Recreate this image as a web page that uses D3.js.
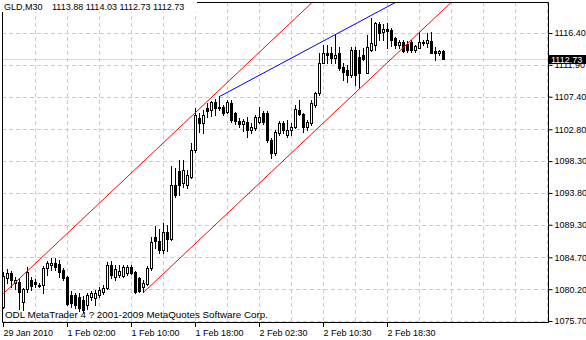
<!DOCTYPE html>
<html>
<head>
<meta charset="utf-8">
<script src="https://cdn.jsdelivr.net/npm/d3@7"></script>
<style>
  body { margin: 0; background: #fff; }
  svg { display: block; font-family: "Liberation Sans", Arial, sans-serif; }
</style>
</head>
<body>
<div id="chart"></div>
<script>
// GLD, 30 minute bars, 29 Jan 2010 .. 2 Feb 2010
const symbol = 'GLD,M30';
const lastOHLC = [1113.88, 1114.03, 1112.73, 1112.73];
const bidPrice = 1112.73;
const copyright = 'ODL MetaTrader 4 ? 2001-2009 MetaQuotes Software Corp.';

const opens = [
  1077.67, 1081.77, 1082.48, 1081.07, 1081.21, 1078.38, 1080.22, 1081.49, 1081.21, 1080.64,
  1080.78, 1083.19, 1083.61, 1083.89, 1083.75, 1082.90, 1081.91, 1079.37, 1079.37, 1079.09,
  1078.66, 1077.96, 1079.09, 1078.95, 1079.37, 1079.80, 1080.36, 1083.61, 1081.91, 1082.20,
  1082.06, 1082.48, 1083.33, 1082.62, 1081.77, 1080.50, 1080.93, 1083.19, 1087.57, 1087.00,
  1085.73, 1088.27, 1087.29, 1094.92, 1096.89, 1095.20, 1094.92, 1096.05, 1099.86, 1104.38,
  1103.68, 1105.80, 1105.52, 1106.65, 1105.94, 1105.94, 1105.23, 1106.50, 1105.09, 1103.96,
  1103.54, 1103.82, 1102.69, 1102.97, 1103.82, 1105.09, 1105.09, 1101.28, 1099.44, 1102.26,
  1103.68, 1101.98, 1102.69, 1103.11, 1105.52, 1104.95, 1103.11, 1103.68, 1106.22, 1107.92,
  1112.16, 1113.57, 1113.57, 1112.86, 1113.57, 1111.59, 1111.17, 1110.46, 1114.00, 1113.01,
  1113.29, 1110.74, 1114.00, 1114.70, 1117.67, 1116.54, 1116.96, 1116.82, 1115.69, 1114.70,
  1115.12, 1114.84, 1115.12, 1114.00, 1114.28, 1115.12, 1114.98, 1115.27, 1113.85, 1113.57, 1113.88
];
const highs = [
  1082.62, 1083.05, 1082.76, 1081.91, 1081.77, 1080.36, 1083.33, 1081.91, 1081.63, 1081.07,
  1083.47, 1084.18, 1084.60, 1084.60, 1084.32, 1083.19, 1082.06, 1079.94, 1079.65, 1079.65,
  1079.23, 1079.65, 1079.94, 1080.08, 1080.50, 1080.78, 1084.03, 1084.18, 1083.61, 1083.61,
  1083.61, 1083.61, 1083.61, 1082.76, 1081.91, 1081.49, 1083.47, 1087.57, 1089.12, 1088.70,
  1089.55, 1089.26, 1097.60, 1097.32, 1098.45, 1098.45, 1097.04, 1100.85, 1105.80, 1105.09,
  1105.52, 1106.50, 1106.79, 1107.07, 1107.49, 1106.22, 1106.93, 1106.93, 1105.23, 1104.38,
  1104.24, 1104.53, 1103.68, 1104.81, 1105.94, 1105.37, 1105.37, 1101.56, 1102.69, 1103.96,
  1103.96, 1104.10, 1103.68, 1106.22, 1106.93, 1105.09, 1104.10, 1106.93, 1108.06, 1113.57,
  1114.70, 1114.70, 1114.42, 1116.26, 1114.42, 1112.16, 1111.87, 1114.42, 1114.42, 1114.00,
  1114.28, 1116.11, 1118.52, 1117.95, 1117.95, 1117.67, 1117.81, 1117.10, 1115.83, 1115.41,
  1115.41, 1115.27, 1115.41, 1114.70, 1116.54, 1115.41, 1116.40, 1116.54, 1114.42, 1114.00, 1114.03
];
const lows = [
  1077.53, 1081.07, 1080.50, 1080.22, 1077.39, 1077.25, 1079.80, 1080.08, 1080.50, 1080.50,
  1079.65, 1082.20, 1082.90, 1082.90, 1081.91, 1081.49, 1077.96, 1077.67, 1077.53, 1077.11,
  1076.97, 1077.39, 1078.66, 1077.96, 1079.09, 1079.51, 1080.22, 1081.77, 1081.49, 1081.91,
  1081.91, 1082.20, 1082.34, 1079.65, 1079.80, 1079.80, 1080.78, 1082.90, 1086.01, 1085.31,
  1085.31, 1085.59, 1087.14, 1093.22, 1093.50, 1094.63, 1094.49, 1095.91, 1099.58, 1102.41,
  1102.26, 1104.53, 1104.67, 1104.81, 1105.52, 1104.81, 1105.09, 1103.82, 1103.54, 1103.11,
  1102.55, 1101.70, 1102.26, 1102.69, 1103.68, 1103.54, 1100.99, 1098.73, 1099.16, 1101.98,
  1102.26, 1101.70, 1101.98, 1102.97, 1104.81, 1102.41, 1102.69, 1103.40, 1105.94, 1107.64,
  1112.16, 1112.16, 1112.16, 1112.16, 1111.17, 1109.75, 1109.47, 1110.18, 1109.05, 1108.62,
  1112.58, 1110.74, 1113.85, 1114.00, 1115.41, 1115.41, 1114.28, 1114.56, 1114.28, 1114.28,
  1113.71, 1113.71, 1113.71, 1113.71, 1114.28, 1114.70, 1114.42, 1113.57, 1112.58, 1113.29, 1112.73
];
const closes = [
  1082.06, 1082.48, 1081.49, 1081.49, 1079.80, 1080.22, 1082.62, 1080.64, 1080.93, 1080.78,
  1083.19, 1083.89, 1083.89, 1083.33, 1082.62, 1081.77, 1078.10, 1078.24, 1077.96, 1077.53,
  1077.25, 1079.37, 1079.65, 1079.65, 1080.08, 1080.36, 1083.61, 1082.20, 1083.05, 1082.76,
  1083.33, 1083.33, 1082.48, 1079.80, 1079.94, 1081.07, 1083.19, 1086.86, 1087.00, 1085.73,
  1088.27, 1087.29, 1094.92, 1093.50, 1094.92, 1097.04, 1096.33, 1099.86, 1104.81, 1103.68,
  1104.81, 1105.37, 1106.65, 1105.80, 1105.80, 1105.09, 1106.65, 1104.10, 1103.96, 1103.54,
  1103.96, 1102.69, 1103.11, 1104.53, 1104.53, 1103.82, 1101.28, 1099.44, 1102.41, 1103.68,
  1102.69, 1102.69, 1103.11, 1105.66, 1104.95, 1103.11, 1103.82, 1106.50, 1107.92, 1112.16,
  1113.57, 1113.29, 1112.86, 1113.29, 1111.45, 1110.89, 1110.46, 1114.00, 1110.46, 1110.74,
  1112.72, 1114.42, 1114.98, 1117.81, 1116.40, 1116.96, 1116.68, 1115.41, 1114.70, 1115.12,
  1113.85, 1114.00, 1114.00, 1114.56, 1115.12, 1114.98, 1115.41, 1113.57, 1113.57, 1113.85, 1112.73
];

const timeLabels = ['29 Jan 2010', '1 Feb 02:00', '1 Feb 10:00', '1 Feb 18:00', '2 Feb 02:30', '2 Feb 10:30', '2 Feb 18:30'];
const timeLabelBars = [0, 16, 32, 48, 64, 80, 96];
const priceTicks = [1116.40, 1111.90, 1107.40, 1102.80, 1098.30, 1093.80, 1089.30, 1084.70, 1080.20, 1075.70];

// trend objects: [bar index, price] anchor pairs
const channelUpper = [[0, 1079.65], [60, 1111.64]];
const channelLower = [[35, 1079.80], [95, 1111.78]];
const blueTrend = [[54, 1107.49], [83, 1116.26]];

const W = 586, H = 340;
const plot = { left: 2, top: 2, right: 548, bottom: 322 };
const gridColor = '#a8dcdc';

const svg = d3.select('#chart').append('svg')
  .attr('width', W)
  .attr('height', H);

svg.append('rect').attr('width', W).attr('height', H).attr('fill', '#fff');

// bar i -> left edge of its pixel column, price -> pixel row
const x = d3.scaleLinear().domain([0, 1]).range([3, 7]);
const y = d3.scaleLinear().domain([1075.70, 1116.40]).range([321, 33]);
const row = v => Math.round(y(v));

//grid
const grid = svg.append('g')
  .attr('stroke', gridColor)
  .attr('stroke-dasharray', '4,3');
grid.selectAll('line.h').data(priceTicks).join('line')
  .attr('x1', plot.left).attr('x2', plot.right)
  .attr('y1', d => row(d) + 0.5).attr('y2', d => row(d) + 0.5);
grid.selectAll('line.v').data(d3.range(8, 137, 8)).join('line')
  .attr('x1', d => x(d) + 0.5).attr('x2', d => x(d) + 0.5)
  .attr('y1', plot.top).attr('y2', plot.bottom);

// bid line
svg.append('line')
  .attr('x1', plot.left).attr('x2', plot.right)
  .attr('y1', row(bidPrice) + 0.5).attr('y2', row(bidPrice) + 0.5)
  .attr('stroke', '#b8e6e6');

svg.append('text')
  .attr('x', 5).attr('y', 318)
  .attr('font-size', '9.8px')
  .attr('fill', '#000')
  .text(copyright);

//candles
const bars = d3.range(closes.length).map(i => ({ i, o: opens[i], h: highs[i], l: lows[i], c: closes[i] }));

svg.append('g').selectAll('line').data(bars).join('line')
  .attr('x1', d => x(d.i) + 0.5).attr('x2', d => x(d.i) + 0.5)
  .attr('y1', d => row(d.h)).attr('y2', d => row(d.l) + 1)
  .attr('stroke', '#000');

svg.append('g').selectAll('rect').data(bars).join('rect')
  .attr('x', d => d.c >= d.o ? x(d.i) - 0.5 : x(d.i) - 1)
  .attr('y', d => d.c >= d.o ? row(d.c) + 0.5 : row(d.o))
  .attr('width', d => d.c >= d.o ? 2 : 3)
  .attr('height', d => d.c >= d.o ? Math.max(row(d.o) - row(d.c), 0.01) : row(d.c) - row(d.o) + 1)
  .attr('fill', d => d.c >= d.o ? '#fff' : '#000')
  .attr('stroke', d => d.c >= d.o ? '#000' : 'none');

// trend lines, extended to the right and clipped to the plot
svg.append('clipPath').attr('id', 'plotClip')
  .append('rect')
  .attr('x', plot.left).attr('y', plot.top + 1)
  .attr('width', plot.right - plot.left).attr('height', plot.bottom - plot.top);

function ray(pts, toBar) {
  const [[i1, p1], [i2, p2]] = pts;
  const k = (p2 - p1) / (i2 - i1);
  return [[i1, p1], [toBar, p1 + k * (toBar - i1)]];
}
const trendLine = d3.line().x(d => x(d[0]) + 0.5).y(d => y(d[1]) + 0.5);

const trends = svg.append('g').attr('clip-path', 'url(#plotClip)').attr('fill', 'none');
trends.append('path').attr('d', trendLine(ray(channelUpper, 140))).attr('stroke', '#ff0000');
trends.append('path').attr('d', trendLine(ray(channelLower, 140))).attr('stroke', '#ff0000');
trends.append('path').attr('d', trendLine(ray(blueTrend, 140))).attr('stroke', '#0000ff');

// frame
svg.append('path')
  .attr('d', `M${plot.left + 0.5},${plot.top + 0.5}H${plot.right + 0.5}V${plot.bottom + 0.5}H${plot.left + 0.5}Z`)
  .attr('fill', 'none')
  .attr('stroke', '#000');

// price axis
svg.append('g')
  .attr('transform', `translate(${plot.right + 0.5},0)`)
  .call(d3.axisRight(y).tickValues(priceTicks).tickFormat(d3.format('.2f')).tickSize(4).tickSizeOuter(0).tickPadding(2))
  .call(g => g.select('.domain').remove())
  .attr('font-family', null)
  .attr('font-size', '9px');

// current price box
svg.append('rect')
  .attr('x', plot.right + 1).attr('y', row(bidPrice) - 4)
  .attr('width', W - plot.right - 1).attr('height', 9)
  .attr('fill', '#000');
svg.append('text')
  .attr('x', plot.right + 3).attr('y', row(bidPrice) + 0.5)
  .attr('dy', '0.35em')
  .attr('font-size', '9px')
  .attr('fill', '#fff')
  .text(d3.format('.2f')(bidPrice));

// time axis
svg.append('g')
  .attr('transform', `translate(0,${plot.bottom})`)
  .call(d3.axisBottom(x).tickValues(timeLabelBars).tickFormat((d, i) => timeLabels[i]).tickSize(5).tickSizeOuter(0))
  .call(g => g.select('.domain').remove())
  .attr('font-family', null)
  .attr('font-size', '9px')
  .selectAll('text')
  .attr('text-anchor', 'start')
  .attr('x', 0)
  .attr('y', 14)
  .attr('dy', 0);

// title
svg.append('rect').attr('x', 0).attr('y', 0).attr('width', 197).attr('height', 12).attr('fill', '#fff');
svg.append('text')
  .attr('x', 4).attr('y', 10)
  .attr('font-size', '9px')
  .text(symbol);
svg.append('text')
  .attr('x', 52).attr('y', 10)
  .attr('font-size', '9px')
  .text(lastOHLC.map(d3.format('.2f')).join(' '));
</script>
</body>
</html>
